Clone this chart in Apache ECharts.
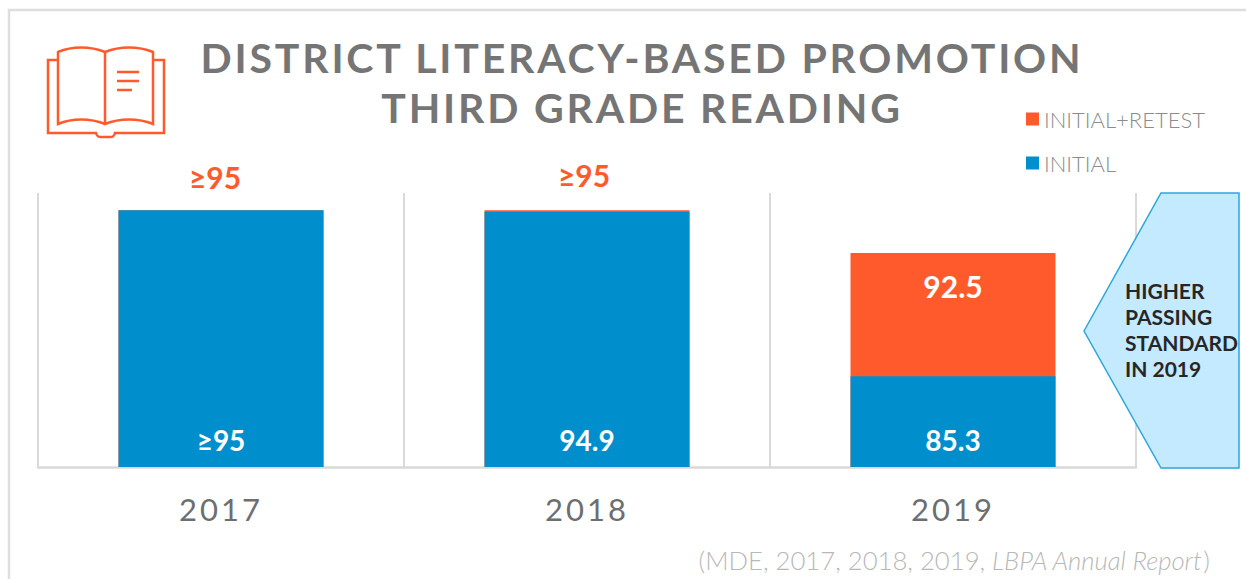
<!DOCTYPE html>
<html>
<head>
<meta charset="utf-8">
<title>District Literacy-Based Promotion</title>
<script src="https://cdn.jsdelivr.net/npm/echarts@6/dist/echarts.min.js"></script>
<style>
  html, body { margin: 0; padding: 0; background: #fff; }
  #chart { width: 1246px; height: 579px; }
  /* echarts has no letter spacing option, so set it on the svg text */
  #chart text[style*="41px"] { letter-spacing: 2.8px; }
  #chart text[style*="31px"] { letter-spacing: 3px; }
</style>
</head>
<body>
<div id="chart"></div>
<script>
var years = ['2017', '2018', '2019'];
var initial = [95, 94.9, 85.3];
var initialRetest = [95, 95, 92.5];
var initialLabels = ['≥95', '94.9', '85.3'];
var retestLabels = ['≥95', '≥95', '92.5'];
var calloutLines = ['HIGHER', 'PASSING', 'STANDARD', 'IN 2019'];

var ORANGE = '#ff5a2c';
var BLUE = '#008fcc';
var FONT = 'Lato, "Open Sans", sans-serif';

// the graphic component has no plain path type, register the book as a shape
echarts.graphic.registerShape('bookIcon', echarts.graphic.extendPath(
  'M105 52 C90 46 72 46 58 52 V124 C72 118 90 118 105 124 C120 118 138 118 153 124 V52 C138 46 120 46 105 52 V124 ' +
  'M58 60 H48 V133 H96 C97 137 99 137 101 137 H110 C112 137 114 137 115 133 H164 V60 H153 ' +
  'M117 72 H139 M117 81 H139 M117 90 H132'
));

var chart = echarts.init(document.getElementById('chart'), null, { renderer: 'svg' });

var option = {
  animation: false,
  backgroundColor: '#fff',
  textStyle: { fontFamily: FONT },
  title: {
    text: 'DISTRICT LITERACY-BASED PROMOTION\nTHIRD GRADE READING',
    left: 637,
    top: 27,
    textAlign: 'center',
    textStyle: {
      color: '#757575',
      fontFamily: FONT,
      fontWeight: 'bold',
      fontSize: 41,
      lineHeight: 50,
    },
  },
  legend: {
    orient: 'vertical',
    left: 1021,
    top: 103,
    itemWidth: 13,
    itemHeight: 13,
    itemGap: 22,
    icon: 'rect',
    data: ['INITIAL+RETEST', 'INITIAL'],
    textStyle: {
      color: '#8c8c8c',
      fontFamily: FONT,
      fontWeight: 300,
      fontSize: 22,
    },
  },
  grid: { left: 38, right: 110, top: 193, bottom: 112 },
  xAxis: {
    type: 'category',
    data: years,
    boundaryGap: true,
    axisLine: { lineStyle: { color: '#d9d9d9', width: 2.5 } },
    axisTick: { show: false },
    splitLine: { show: true, lineStyle: { color: '#d9d9d9', width: 2 } },
    axisLabel: {
      color: '#6e6e6e',
      fontFamily: FONT,
      fontSize: 31,
      margin: 26,
    },
  },
  yAxis: {
    type: 'value',
    min: 80,
    max: 96,
    show: false,
    splitLine: { show: false },
  },
  series: [
    {
      name: 'INITIAL+RETEST',
      type: 'bar',
      barWidth: '56%',
      barGap: '-100%',
      itemStyle: { color: ORANGE },
      data: initialRetest.map(function (v, i) {
        var inside = i === 2;
        return {
          value: v,
          label: {
            show: true,
            formatter: retestLabels[i],
            position: inside ? 'insideTop' : 'top',
            distance: inside ? 18 : 18,
            offset: inside ? [0, 0] : [i === 0 ? -6 : -3, i === 0 ? 0 : -2],
            color: inside ? '#fff' : ORANGE,
            fontFamily: FONT,
            fontWeight: 'bold',
            fontSize: 30,
          },
        };
      }),
    },
    {
      name: 'INITIAL',
      type: 'bar',
      barWidth: '56%',
      itemStyle: { color: BLUE },
      data: initial.map(function (v, i) {
        return {
          value: v,
          label: {
            show: true,
            formatter: initialLabels[i],
            position: 'insideBottom',
            distance: 13,
            color: '#fff',
            fontFamily: FONT,
            fontWeight: 'bold',
            fontSize: 28,
          },
        };
      }),
    },
  ],
  graphic: [
    // page frame
    {
      type: 'polyline',
      shape: { points: [[9, 579], [9, 10], [1246, 10]] },
      style: { stroke: '#dedede', lineWidth: 2.5, fill: 'none' },
      silent: true,
    },
    // book icon
    {
      type: 'bookIcon',
      style: { stroke: ORANGE, lineWidth: 2.5, fill: 'none' },
      silent: true,
    },
    // callout
    {
      type: 'polygon',
      z: 5,
      shape: { points: [[1084, 331], [1161, 193], [1239, 193], [1239, 468], [1161, 468]] },
      style: { fill: '#c3eafe', stroke: '#2ea6dd', lineWidth: 1.5 },
      silent: true,
    },
    {
      type: 'text',
      z: 6,
      left: 1125,
      top: 277,
      style: {
        text: calloutLines.join('\n'),
        fill: '#262626',
        font: 'bold 21px ' + FONT,
        lineHeight: 26,
      },
      silent: true,
    },
    // source
    {
      type: 'text',
      right: 36,
      top: 547,
      style: {
        text: '{a|(MDE, 2017, 2018, 2019, }{b|LBPA Annual Report}{a|)}',
        rich: {
          a: { fill: '#b8b8b8', font: '300 25.7px ' + FONT },
          b: { fill: '#b8b8b8', font: 'italic 300 25.7px ' + FONT },
        },
      },
      silent: true,
    },
  ],
};

chart.setOption(option);
</script>
</body>
</html>
